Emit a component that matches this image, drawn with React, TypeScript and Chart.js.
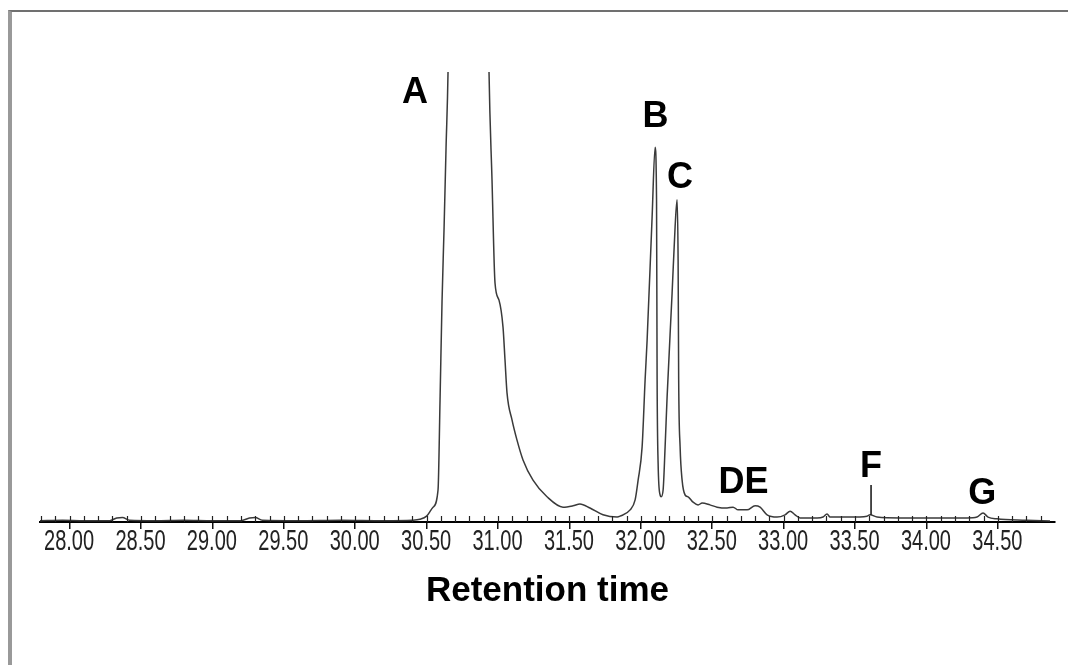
import React, { useEffect, useRef } from "react";
import { Chart, registerables } from "chart.js";

Chart.register(...registerables);

// Retention time (min) of traced points of the chromatogram
const retentionTime = [
  27.79, 27.95, 28.1, 28.28, 28.33, 28.37, 28.42, 28.6, 28.8, 29.0,
  29.2, 29.26, 29.3, 29.35, 29.6, 29.9, 30.2, 30.4, 30.453, 30.5,
  30.545, 30.58, 30.594, 30.608, 30.622, 30.636, 30.65, 30.66, 30.7, 30.8,
  30.9, 30.93, 30.937, 30.958, 30.979, 31.007, 31.035, 31.049, 31.063, 31.098,
  31.133, 31.175, 31.245, 31.343, 31.455, 31.525, 31.574, 31.644, 31.735, 31.834,
  31.855, 31.925, 31.96, 31.981, 32.009, 32.03, 32.044, 32.079, 32.1, 32.11,
  32.114, 32.121, 32.135, 32.142, 32.156, 32.17, 32.184, 32.219, 32.24, 32.254,
  32.261, 32.265, 32.275, 32.289, 32.31, 32.331, 32.366, 32.401, 32.429, 32.484,
  32.534, 32.604, 32.646, 32.681, 32.744, 32.8, 32.835, 32.884, 32.954, 33.01,
  33.045, 33.08, 33.115, 33.234, 33.276, 33.304, 33.325, 33.465, 33.584, 33.605,
  33.654, 33.815, 34.284, 34.354, 34.396, 34.431, 34.494, 34.7, 34.865,
];

// Detector response (relative units, 100 = top of the plot)
const response = [
  0.3, 0.4, 0.3, 0.3, 0.9, 1.0, 0.4, 0.3, 0.4, 0.3,
  0.3, 0.9, 1.0, 0.4, 0.3, 0.4, 0.3, 0.4, 0.6, 1.3,
  3.3, 7.1, 27, 49, 65, 83, 100, 125, 170, 200,
  170, 118, 100, 76, 53.1, 49.3, 43.3, 36, 28.7, 22.7,
  18.2, 13.8, 9.3, 5.6, 3.3, 3.6, 4.0, 3.1, 1.6, 1.1,
  1.3, 2.7, 4.9, 9.3, 16.7, 31.6, 40.4, 67.8, 83.3, 71.6,
  31.6, 13.1, 6.0, 5.6, 7.1, 16.7, 27.8, 50.9, 65.6, 71.6,
  58.2, 31.6, 16.7, 9.3, 6.0, 5.6, 4.4, 3.8, 4.2, 3.8,
  3.3, 3.1, 3.3, 2.7, 2.7, 3.6, 3.3, 1.6, 1.1, 1.6,
  2.4, 1.6, 0.9, 0.9, 1.1, 1.8, 1.1, 1.1, 1.3, 1.6,
  1.1, 0.9, 0.9, 1.1, 2.0, 1.1, 0.7, 0.4, 0.2,
];

const xMin = 27.793;
const xMax = 34.9;
const yMin = 0;
const yMax = 100;
const majorTickStep = 0.5;
const minorTickStep = 0.1;

// Peak labels anchored in data coordinates
const peakNames = ["A", "B", "C", "DE", "F", "G"];
const peakLabelTime = [30.418, 32.103, 32.274, 32.719, 33.612, 34.39];
const peakLabelLevel = [95.4, 89.9, 76.4, 8.6, 12.1, 6.2];

// Marker line under label F
const markerTime = [33.612];
const markerTop = [8.2];
const markerBottom = [1.6];

const axisTitle = "Retention time";

const overlayPlugin = {
  id: "overlay",
  afterDraw(chart: any) {
    const { ctx, chartArea } = chart;
    const x = chart.scales.x;
    const y = chart.scales.y;
    ctx.save();
    // minor upward ticks
    ctx.strokeStyle = "#222";
    ctx.lineWidth = 1.2;
    const base = chartArea.bottom;
    const kStart = Math.ceil(xMin / minorTickStep);
    const kEnd = Math.floor(xMax / minorTickStep);
    for (let k = kStart; k <= kEnd; k++) {
      const px = Math.round(x.getPixelForValue(k * minorTickStep)) + 0.5;
      ctx.beginPath();
      ctx.moveTo(px, base);
      ctx.lineTo(px, base - 6);
      ctx.stroke();
    }
    // condensed tick labels (taken from the scale's own ticks)
    ctx.fillStyle = "#222";
    ctx.textAlign = "center";
    ctx.textBaseline = "middle";
    ctx.font = '29px "Liberation Sans", Arial, sans-serif';
    x.ticks.forEach((tk: any) => {
      const px = x.getPixelForValue(tk.value);
      ctx.save();
      ctx.translate(px - 0.5, base + 20);
      ctx.scale(0.69, 1);
      ctx.fillText(Number(tk.value).toFixed(2), 0, 0);
      ctx.restore();
    });
    // marker lines
    ctx.strokeStyle = "#111";
    ctx.lineWidth = 1.5;
    markerTime.forEach((t, i) => {
      const px = x.getPixelForValue(t);
      ctx.beginPath();
      ctx.moveTo(px, y.getPixelForValue(markerTop[i]));
      ctx.lineTo(px, y.getPixelForValue(markerBottom[i]));
      ctx.stroke();
    });
    // peak labels
    ctx.font = 'bold 36px "Liberation Sans", Arial, sans-serif';
    ctx.fillStyle = "#000";
    peakNames.forEach((n, i) => {
      ctx.fillText(n, x.getPixelForValue(peakLabelTime[i]), y.getPixelForValue(peakLabelLevel[i]));
    });
    ctx.restore();
  },
};

export default function App() {
  const canvasRef = useRef<HTMLCanvasElement | null>(null);

  useEffect(() => {
    const canvas = canvasRef.current;
    if (!canvas) return;
    const points = retentionTime.map((t, i) => ({ x: t, y: response[i] }));
    const chart = new Chart(canvas, {
      type: "line",
      data: {
        datasets: [
          {
            data: points,
            borderColor: "#3a3a3a",
            borderWidth: 1.5,
            pointRadius: 0,
            fill: false,
            cubicInterpolationMode: "monotone",
          },
        ],
      },
      options: {
        animation: false,
        responsive: false,
        devicePixelRatio: 1,
        layout: { padding: { left: 28, right: 13, top: 60, bottom: 0 } },
        plugins: { legend: { display: false }, tooltip: { enabled: false } },
        scales: {
          x: {
            type: "linear",
            min: xMin,
            max: xMax,
            afterFit: (scale: any) => {
              scale.height = 143;
            },
            border: { display: true, color: "#000", width: 2 },
            grid: {
              display: true,
              drawOnChartArea: false,
              drawTicks: true,
              tickLength: 7,
              color: "#111",
              lineWidth: 1.5,
            },
            ticks: {
              stepSize: majorTickStep,
              includeBounds: false,
              autoSkip: false,
              maxRotation: 0,
              padding: 3,
              color: "rgba(0,0,0,0)",
              font: { family: '"Liberation Sans", sans-serif', size: 16 },
              callback: (v: any) => Number(v).toFixed(2),
            },
            title: {
              display: true,
              text: axisTitle,
              color: "#000",
              font: { family: '"Liberation Sans", Arial, sans-serif', size: 35, weight: "bold" },
              padding: { top: 0, bottom: 53 },
            },
          },
          y: {
            display: false,
            min: yMin,
            max: yMax,
          },
        },
      },
      plugins: [overlayPlugin],
    });
    return () => chart.destroy();
  }, []);

  return (
    <div
      style={{
        position: "absolute",
        left: 8,
        top: 10,
        width: 1060,
        height: 655,
        boxSizing: "border-box",
        borderTop: "2px solid #707070",
        borderLeft: "4px solid #999",
        background: "#fff",
      }}
    >
      <canvas ref={canvasRef} width={1056} height={653} style={{ display: "block" }} />
    </div>
  );
}
